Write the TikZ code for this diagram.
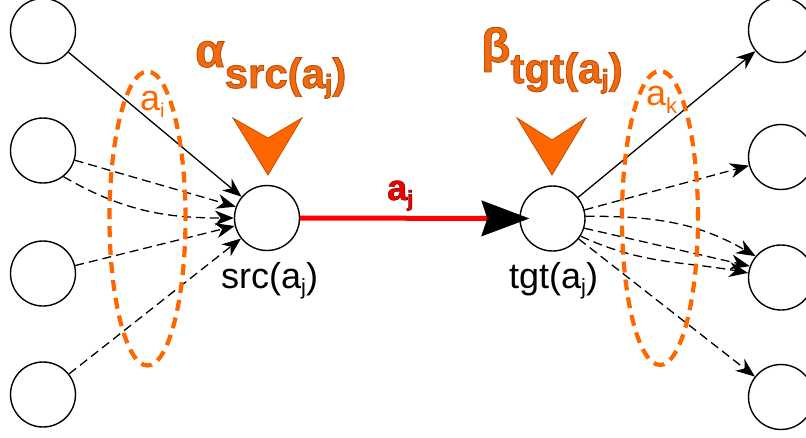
\documentclass[tikz,border=0pt]{standalone}
\usepackage{fontspec}
\setmainfont{Liberation Sans}
\usetikzlibrary{arrows.meta,shapes.geometric}
\definecolor{orng}{HTML}{FF6600}
\definecolor{orngdark}{HTML}{C04F00}
\definecolor{greek}{HTML}{F06A12}
\definecolor{redline}{HTML}{FF0000}
\definecolor{redtext}{HTML}{F00000}
\newcommand\lowered[3]{\raisebox{-#1}{\fontsize{#2}{#2}\selectfont #3}}
\newcommand\outlined[3]{\special{pdf:literal direct #1 RG 2 Tr #2 w}#3\special{pdf:literal direct 0 Tr}}
\tikzset{
  vertex/.style={circle, draw, line width=1.4pt, minimum size=65pt, inner sep=0pt, fill=white},
  sedge/.style={line width=1.3pt, -{Stealth[length=19pt,width=15pt,inset=6pt]}},
  dedge/.style={sedge, dash pattern=on 9pt off 5pt},
  group/.style={ellipse, draw=orng, line width=4.2pt, dash pattern=on 11pt off 7pt, inner sep=0pt, minimum width=76pt, minimum height=294pt},
  chev/.style={fill=orng, draw=orngdark, line width=0.8pt, line join=miter},
  lbl/.style={anchor=base west, inner sep=0pt, font=\fontsize{36}{36}\selectfont},
  glbl/.style={anchor=base west, inner sep=0pt, text=greek, font=\bfseries\fontsize{48}{48}\selectfont}
}
\begin{document}
\begin{tikzpicture}[x=1pt,y=1pt]
\useasboundingbox (0,0) rectangle (806,-437);
% vertices
\node[vertex] (L1) at (43,-31) {};
\node[vertex] (L2) at (43,-150.5) {};
\node[vertex] (L3) at (43,-273.5) {};
\node[vertex] (L4) at (43,-394.5) {};
\node[vertex] (src) at (267,-218) {};
\node[vertex] (tgt) at (552.5,-218.5) {};
\node[vertex] (R1) at (781,-30) {};
\node[vertex] (R2) at (781,-157) {};
\node[vertex] (R3) at (781,-277.5) {};
\node[vertex] (R4) at (781,-397) {};
% incoming edges
\draw[sedge] (L1) -- (src);
\draw[dedge] (L2.-17) -- (src.160);
\draw[dedge] (L2.-52) to[out=-30,in=180] (src.180);
\draw[dedge] (L3) -- (src);
\draw[dedge] (L4) -- (src);
% outgoing edges
\draw[sedge] (tgt) -- (R1);
\draw[dedge] (tgt) -- (R2);
\draw[dedge] (tgt.4) to[out=0,in=150] (R3.140);
\draw[dedge] (tgt.-17) -- (R3.160);
\draw[dedge] (tgt.-32) to[out=-25,in=170] (R3.172);
\draw[dedge] (tgt) -- (R4);
% main edge
\draw[redline, line width=5pt, -{Stealth[length=48pt,width=36pt,inset=6pt,color=black,line width=0.5pt]}, shorten >=-10pt] (src) -- (tgt);
% groups
\node[group] (gi) at (147.5,-218.5) {};
\node[group] (gk) at (660,-218) {};
% chevrons
\filldraw[chev] (233,-118) -- (268,-138) -- (302,-118) -- (268,-175) -- cycle;
\filldraw[chev] (517,-118) -- (552,-140) -- (586,-118) -- (552,-175) -- cycle;
% labels
\node[lbl, text=orng] (ai) at (140,-110) {a\lowered{7pt}{20}{i}};
\node[lbl, text=orng] (ak) at (646,-105) {a\lowered{8pt}{22}{k}};
\node[lbl] (srclbl) at (221,-288) {src(a\lowered{6pt}{22}{j})};
\node[lbl] (tgtlbl) at (509,-288) {tgt(a\lowered{6pt}{22}{j})};
\node[lbl, text=redtext, font=\bfseries\fontsize{36}{36}\selectfont] (ajlbl) at (387,-200) {\outlined{0.6 0 0}{0.6}{a\lowered{6pt}{22}{j}}};
\node[glbl] (alpha) at (195,-67) {\outlined{0.75 0.3 0}{0.9}{α\lowered{21pt}{42}{src(a\lowered{5pt}{26}{j})}}};
\node[glbl] (beta) at (481,-62) {\outlined{0.75 0.3 0}{0.9}{β\lowered{21pt}{42}{tgt(a\lowered{5pt}{26}{j})}}};
\end{tikzpicture}
\end{document}
